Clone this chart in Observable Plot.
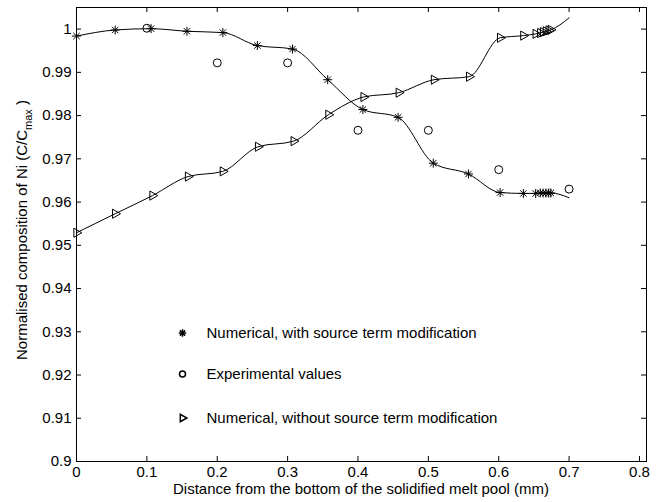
<!DOCTYPE html>
<html><head><meta charset="utf-8">
<script src="https://cdn.jsdelivr.net/npm/d3@7"></script>
<script src="https://cdn.jsdelivr.net/npm/@observablehq/plot@0.6"></script>
<style>html,body{margin:0;padding:0;background:#fff} svg{display:block}</style>
</head><body><div id="chart"></div>
<script>
// Numerical, with source term modification (asterisks)
const starX = [0, 0.055, 0.106, 0.157, 0.208, 0.257, 0.307, 0.357, 0.407, 0.457, 0.507, 0.557, 0.602, 0.635, 0.6525, 0.659, 0.663, 0.667, 0.671, 0.674];
const starY = [0.9984, 0.9998, 1.0001, 0.9995, 0.9992, 0.9962, 0.9954, 0.9883, 0.9814, 0.9796, 0.9690, 0.9665, 0.9622, 0.9620, 0.9620, 0.9621, 0.9621, 0.9621, 0.9621, 0.9621];
const starLineEnd = [0.7, 0.9610];
// Experimental values (circles)
const expX = [0.1, 0.2, 0.3, 0.4, 0.5, 0.6, 0.7];
const expY = [1.0002, 0.9922, 0.9922, 0.9766, 0.9766, 0.9675, 0.9630];
// Numerical, without source term modification (triangles)
const triX = [0, 0.055, 0.108, 0.1585, 0.208, 0.258, 0.3087, 0.358, 0.408, 0.458, 0.508, 0.558, 0.602, 0.635, 0.6525, 0.659, 0.663, 0.667, 0.671, 0.674];
const triY = [0.9529, 0.9573, 0.9615, 0.9659, 0.9671, 0.9728, 0.9741, 0.9802, 0.9843, 0.9853, 0.9883, 0.9890, 0.9980, 0.9985, 0.9989, 0.9991, 0.9993, 0.9995, 0.9997, 0.99985];
const triLineEnd = [0.7, 1.0026];

const xTicks = [0, 0.1, 0.2, 0.3, 0.4, 0.5, 0.6, 0.7, 0.8];
const xTickLabels = ["0", "0.1", "0.2", "0.3", "0.4", "0.5", "0.6", "0.7", "0.8"];
const yTicks = [0.9, 0.91, 0.92, 0.93, 0.94, 0.95, 0.96, 0.97, 0.98, 0.99, 1];
const yTickLabels = ["0.9", "0.91", "0.92", "0.93", "0.94", "0.95", "0.96", "0.97", "0.98", "0.99", "1"];
const legendLabels = ["Numerical, with source term modification", "Experimental values", "Numerical, without source term modification"];
const xLabel = "Distance from the bottom of the solidified melt pool (mm)";
const yLabelMain = "Normalised composition of Ni (C/C";
const yLabelSub = "max";
const yLabelEnd = " )";

const W = 661, H = 502, mt = 7, mb = 41, ml = 76, mr = 15;
const innerH = H - mt - mb, innerW = W - ml - mr;
const FONT = "'Liberation Sans', Arial, Helvetica, sans-serif";
const FS = 15;

const starPts = starX.map((x, i) => ({x, y: starY[i]}));
const expPts = expX.map((x, i) => ({x, y: expY[i]}));
const triPts = triX.map((x, i) => ({x, y: triY[i]}));
const starLine = [...starPts, {x: starLineEnd[0], y: starLineEnd[1]}];
const triLine = [...triPts, {x: triLineEnd[0], y: triLineEnd[1]}];
const xMap = new Map(xTicks.map((t, i) => [t, xTickLabels[i]]));
const yMap = new Map(yTicks.map((t, i) => [t, yTickLabels[i]]));

const legDy = [325.5, 366.5, 410.5];

const chart = Plot.plot({
  width: W, height: H, marginTop: mt, marginBottom: mb, marginLeft: ml, marginRight: mr,
  x: {domain: [0, 0.81]},
  y: {domain: [0.9, 1.005]},
  style: {fontFamily: FONT, fontSize: FS + "px", color: "black", background: "white", overflow: "visible"},
  marks: [
    Plot.tickX(xTicks, {x: d => d, insetTop: innerH - 5, stroke: "black"}),
    Plot.tickX(xTicks, {x: d => d, insetBottom: innerH - 5, stroke: "black"}),
    Plot.tickY(yTicks, {y: d => d, insetRight: innerW - 5, stroke: "black"}),
    Plot.tickY(yTicks, {y: d => d, insetLeft: innerW - 5, stroke: "black"}),
    Plot.frame({stroke: "black", strokeWidth: 1}),
    Plot.axisX(xTicks, {tickSize: 0, tickPadding: 5, tickFormat: d => xMap.get(d), label: null, fill: "black", fontSize: FS}),
    Plot.axisY(yTicks, {tickSize: 0, tickPadding: 5, tickFormat: d => yMap.get(d), label: null, fill: "black", fontSize: FS}),
    Plot.line(starLine, {x: "x", y: "y", curve: "monotone-x", stroke: "black", strokeWidth: 1}),
    Plot.line(triLine, {x: "x", y: "y", curve: "monotone-x", stroke: "black", strokeWidth: 1}),
    Plot.dot(starPts, {x: "x", y: "y", symbol: "plus", r: 3, stroke: "black", strokeWidth: 1}),
    Plot.dot(starPts, {x: "x", y: "y", symbol: "times", r: 3, stroke: "black", strokeWidth: 1}),
    Plot.dot(expPts, {x: "x", y: "y", symbol: "circle", r: 4, stroke: "black", fill: "none", strokeWidth: 1}),
    Plot.dot(triPts, {x: "x", y: "y", symbol: "triangle", r: 3.4, rotate: 90, stroke: "black", fill: "none", strokeWidth: 1}),
    // legend
    Plot.dot([legendLabels[0]], {frameAnchor: "top-left", dx: 106, dy: legDy[0], symbol: "plus", r: 2.5, stroke: "black"}),
    Plot.dot([legendLabels[0]], {frameAnchor: "top-left", dx: 106, dy: legDy[0], symbol: "times", r: 2.5, stroke: "black"}),
    Plot.dot([legendLabels[1]], {frameAnchor: "top-left", dx: 106, dy: legDy[1], symbol: "circle", r: 3, stroke: "black", fill: "none"}),
    Plot.dot([legendLabels[2]], {frameAnchor: "top-left", dx: 106, dy: legDy[2], symbol: "triangle", r: 2.8, rotate: 90, stroke: "black", fill: "none"}),
    ...legendLabels.map((t, i) => Plot.text([t], {frameAnchor: "top-left", dx: 130, dy: legDy[i], text: d => d, textAnchor: "start", lineAnchor: "middle", fill: "black", fontSize: FS}))
  ]
});

const svg = d3.select(chart);
svg.append("text")
  .attr("x", ml + innerW / 2).attr("y", 494)
  .attr("text-anchor", "middle").attr("fill", "black")
  .style("font-family", FONT).style("font-size", FS + "px")
  .text(xLabel);
const yl = svg.append("text")
  .attr("transform", "translate(27,230) rotate(-90)")
  .attr("text-anchor", "middle").attr("fill", "black")
  .style("font-family", FONT).style("font-size", FS + "px");
yl.append("tspan").text(yLabelMain);
yl.append("tspan").attr("dy", 5).style("font-size", "11px").text(yLabelSub);
yl.append("tspan").attr("dy", -5).text(yLabelEnd);

document.getElementById("chart").appendChild(chart);
</script>
</body></html>
